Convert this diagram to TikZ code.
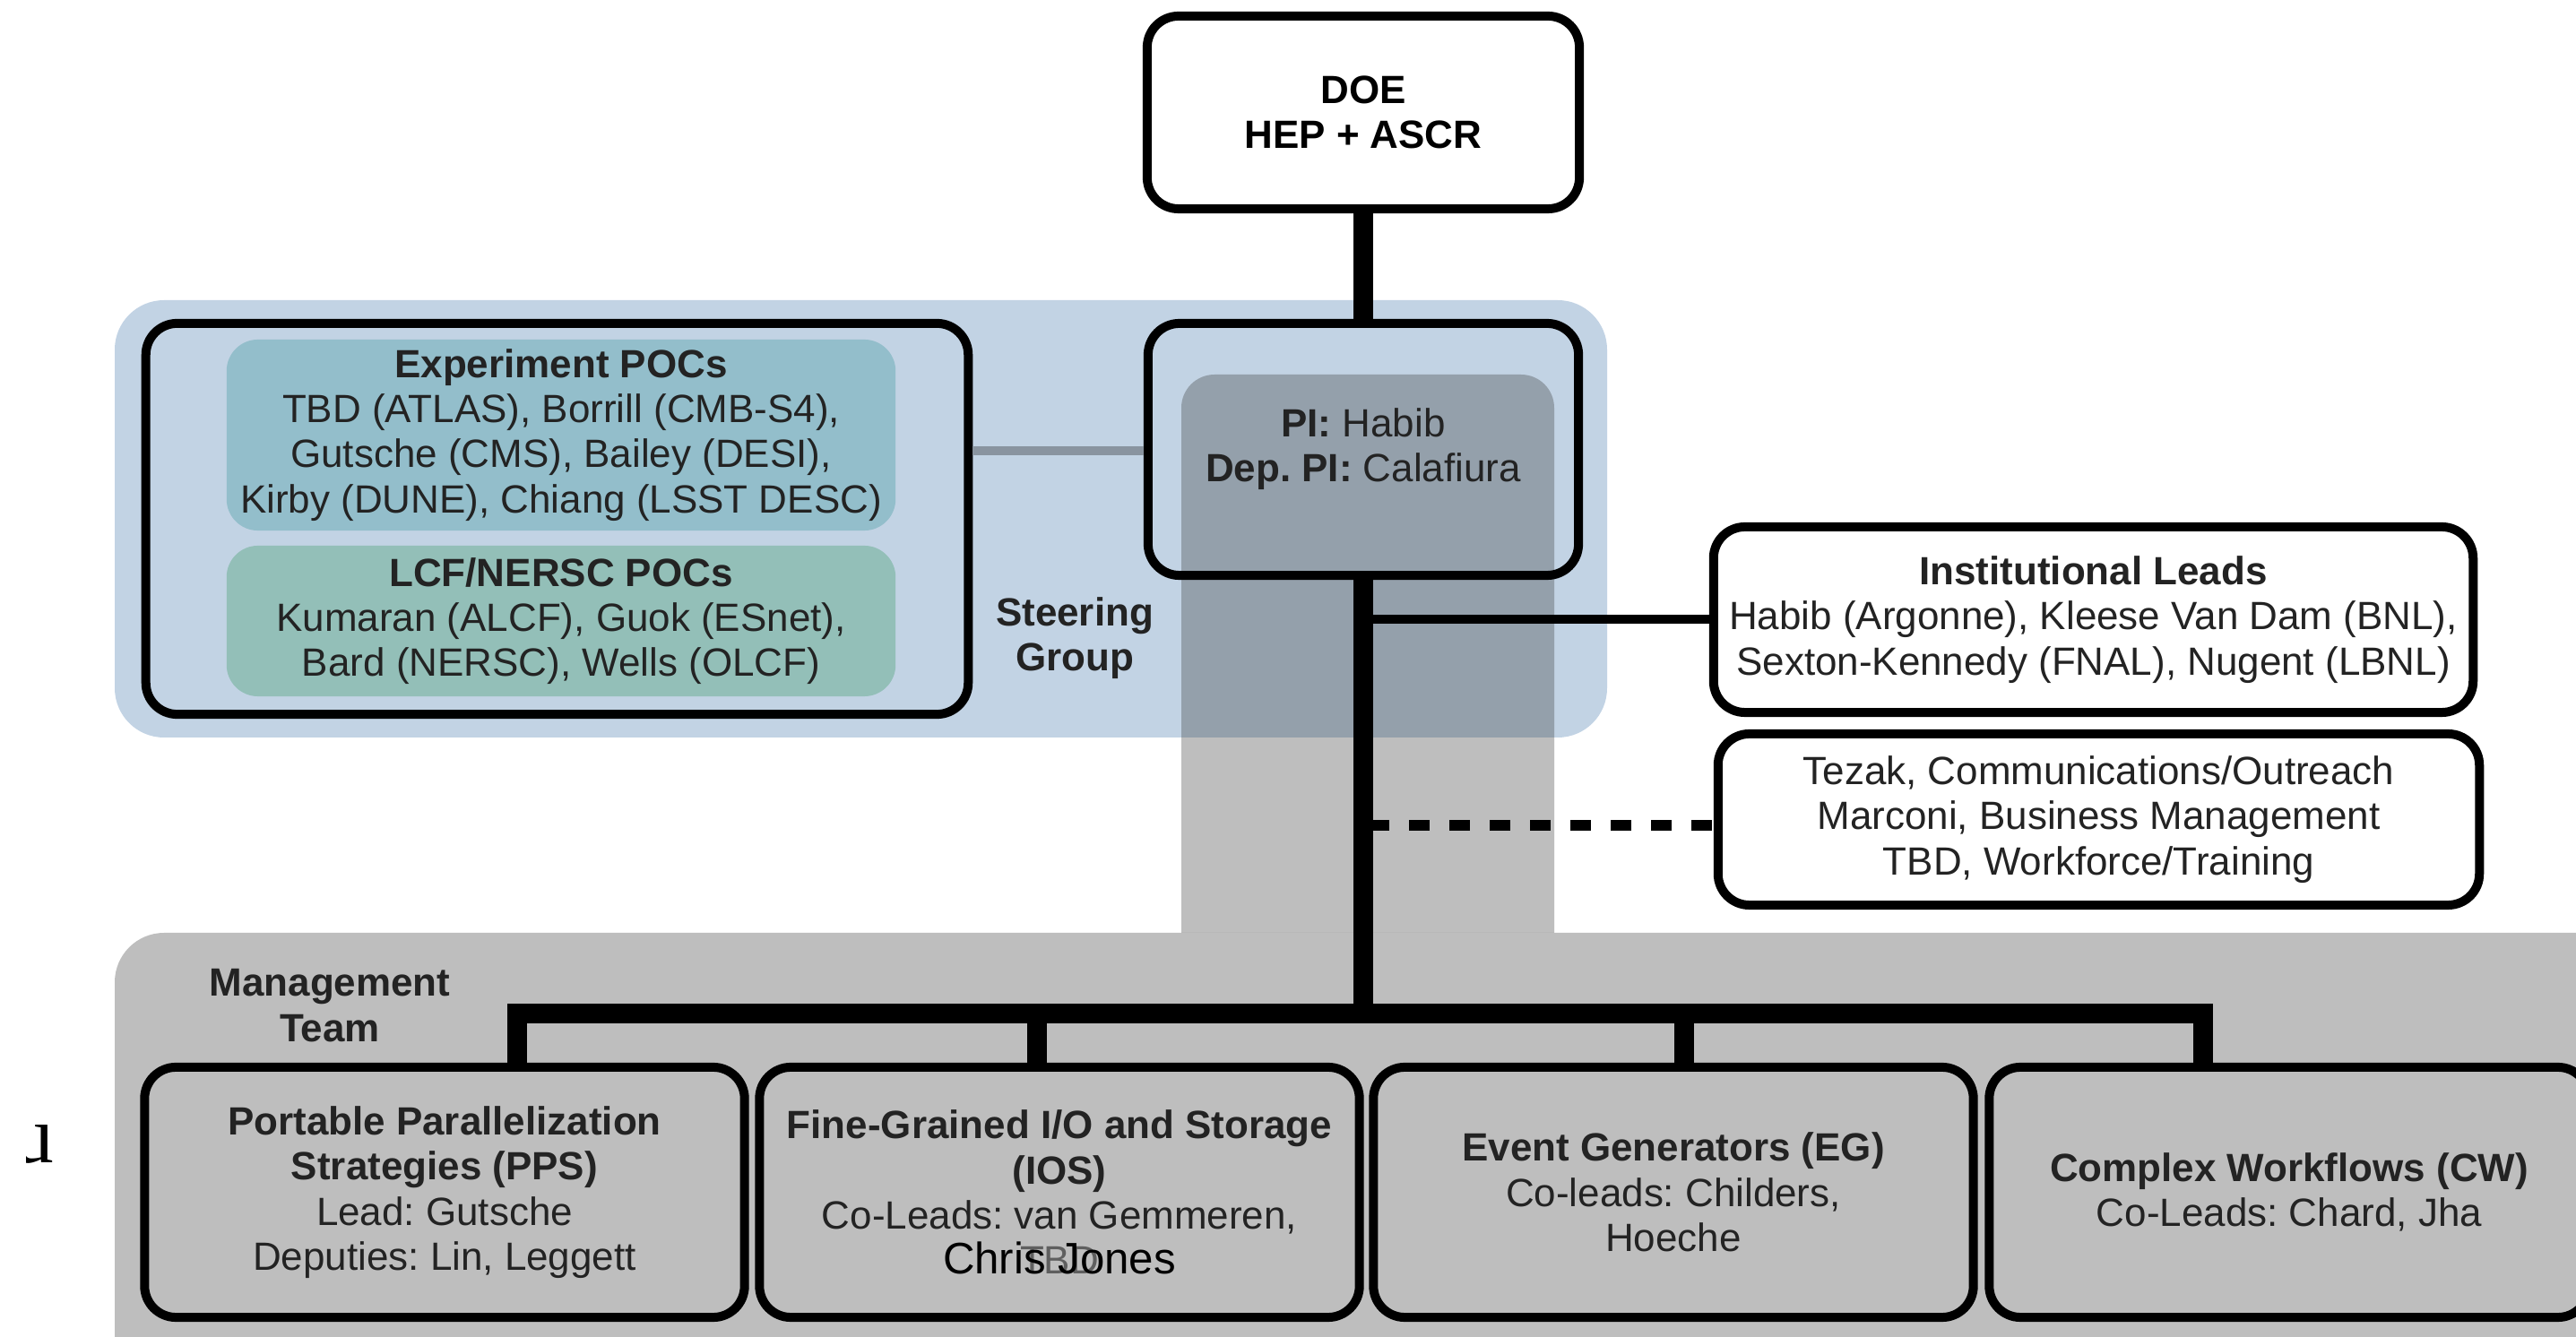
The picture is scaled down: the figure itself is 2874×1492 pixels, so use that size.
\documentclass[tikz,border=0pt]{standalone}
\usepackage{fontspec}
\setmainfont{Liberation Sans}
\newfontfamily\serifu{Liberation Serif}
\frenchspacing
\definecolor{steerblue}{RGB}{194,211,228}
\definecolor{mgmtgray}{RGB}{190,190,190}
\definecolor{colgray}{RGB}{57,57,57}
\definecolor{expfill}{RGB}{147,190,203}
\definecolor{lcffill}{RGB}{147,191,184}
\definecolor{linkgray}{RGB}{137,148,160}
\definecolor{txt}{RGB}{35,35,35}
\definecolor{tbdgray}{RGB}{95,95,95}
\newcommand\fsz{\fontsize{12.5}{14.3}\selectfont}
\begin{document}
\frenchspacing
\begin{tikzpicture}[x=0.01cm,y=-0.01cm,
  box/.style={draw, line width=0.1cm, rounded corners=0.35cm, inner sep=0pt, align=center, font=\fsz, text=txt},
  fillbox/.style={rounded corners=0.35cm, inner sep=0pt, align=center, font=\fsz, text=txt},
  lbl/.style={inner sep=0pt, align=center, font=\fsz\bfseries, text=txt},
  trunk/.style={line width=0.22cm},
  link/.style={line width=0.1cm},
  bottombox/.style={box, minimum width=6.69cm, minimum height=2.79cm},
]
\path[use as bounding box, clip] (0,0) rectangle (2874,1492);

% backgrounds
\fill[steerblue, rounded corners=0.55cm] (128,335) rectangle (1793,823);
\fill[mgmtgray, rounded corners=0.55cm] (128,1041) rectangle (2950,1600);
\fill[colgray, fill opacity=0.33] (1318,1041) [rounded corners=0.37cm] -- (1318,418) -- (1734,418) [sharp corners] -- (1734,1041) -- cycle;

% steering group
\node[fillbox, fill=expfill, minimum width=7.46cm, minimum height=2.13cm] (exp) at (626,485.5)
  {\textbf{Experiment POCs}\\TBD (ATLAS), Borrill (CMB-S4),\\Gutsche (CMS), Bailey (DESI),\\Kirby (DUNE), Chiang (LSST DESC)};
\node[fillbox, fill=lcffill, minimum width=7.46cm, minimum height=1.68cm] (lcf) at (626,693)
  {\textbf{LCF/NERSC POCs}\\Kumaran (ALCF), Guok (ESnet),\\Bard (NERSC), Wells (OLCF)};
\node[box, minimum width=9.17cm, minimum height=4.36cm] (pocs) at (621.5,579) {};
\node[lbl] (steer) at (1199,712) {Steering\\Group};

% top
\node[box, minimum width=4.82cm, minimum height=2.15cm, font=\fsz\bfseries, text=black] (doe) at (1521,125.5) {DOE\\HEP + ASCR};
\node[box, minimum width=4.80cm, minimum height=2.81cm] (pi) at (1521,501.5) {\textbf{PI:} Habib\\\textbf{Dep. PI:} Calafiura};

% right
\node[box, minimum width=8.47cm, minimum height=2.07cm] (inst) at (2335.5,691.5)
  {\textbf{Institutional Leads}\\Habib (Argonne), Kleese Van Dam (BNL),\\Sexton-Kennedy (FNAL), Nugent (LBNL)};
\node[box, minimum width=8.49cm, minimum height=1.91cm] (staff) at (2341.5,914.5)
  {Tezak, Communications/Outreach\\Marconi, Business Management\\TBD, Workforce/Training};

% management
\node[lbl] (mgmt) at (368,1122) {Management\\Team};
\node[bottombox] (pps) at (496,1330.5) {\textbf{Portable Parallelization}\\\textbf{Strategies (PPS)}\\Lead: Gutsche\\Deputies: Lin, Leggett};
\node[bottombox] (ios) at (1182,1330.5) {\textbf{Fine-Grained I/O and Storage}\\\textbf{(IOS)}\\Co-Leads: van Gemmeren,\\\textcolor{tbdgray}{TBD}};
\node[bottombox] (eg) at (1867,1330.5) {\textbf{Event Generators (EG)}\\Co-leads: Childers,\\Hoeche};
\node[bottombox] (cw) at (2554,1330.5) {\textbf{Complex Workflows (CW)}\\Co-Leads: Chard, Jha};
\node[inner sep=0pt, font=\fontsize{14}{16}\selectfont, text=black] (cj) at (1182,1404) {Chris Jones};

% connectors
\coordinate (d1) at (577,1131);
\coordinate (d2) at (1157,1131);
\coordinate (d3) at (1879,1131);
\coordinate (d4) at (2458,1131);
\coordinate (gl) at (1100,503);
\coordinate (sd) at (1521,921);
\draw[trunk] (doe.south) -- (pi.north);
\draw[trunk] (pi.south) -- (pi.south |- d1);
\draw[trunk, line join=miter] (d1 |- pps.north) -- (d1) -- (d4) -- (d4 |- cw.north);
\draw[trunk] (d2) -- (d2 |- ios.north);
\draw[trunk] (d3) -- (d3 |- eg.north);
\draw[link] (pi.south |- inst.west) -- (inst.west);
\draw[line width=0.12cm, dash pattern=on 0.23cm off 0.22cm, dash phase=0.39cm] (sd) -- (sd -| staff.west);
\draw[linkgray, line width=0.1cm] (pocs.east |- gl) -- (gl -| pi.west);

% stray glyph
\begin{scope}
\clip (29,1220) rectangle (120,1340);
\node[font=\serifu\fontsize{26}{30}\selectfont, inner sep=0pt, anchor=base] (u) at (37,1298) {u};
\end{scope}
\end{tikzpicture}
\end{document}
